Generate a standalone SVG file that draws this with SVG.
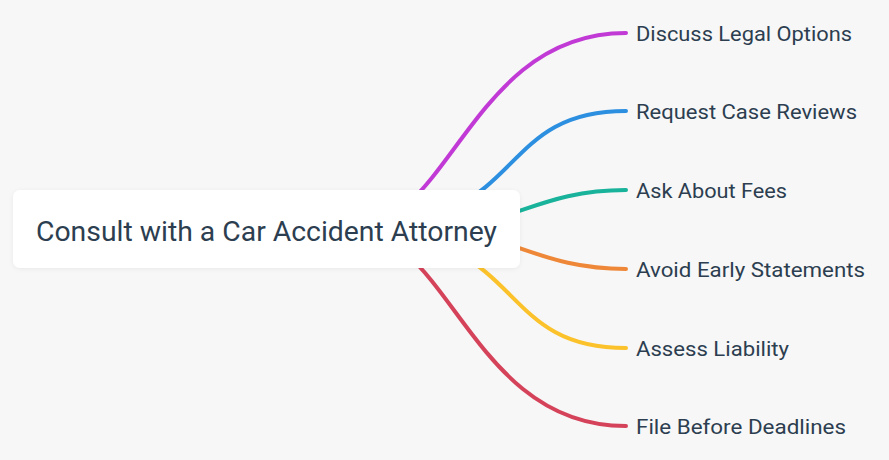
<svg xmlns="http://www.w3.org/2000/svg" width="889" height="460" viewBox="0 0 889 460">
<defs>
<style>
.link{fill:none;stroke-width:4;stroke-linecap:round}
.lbl{font-family:Roboto,"Liberation Sans",sans-serif;font-size:20px;fill:#2c3e50}
.root{font-family:Roboto,"Liberation Sans",sans-serif;font-size:27px;fill:#2c3e50}
</style>
<filter id="sh" x="-5%" y="-20%" width="110%" height="140%">
<feDropShadow dx="0" dy="1" stdDeviation="2" flood-color="#000" flood-opacity="0.06"/>
</filter>
</defs>
<rect width="889" height="460" fill="#f7f7f7"/>
<g id="connectors">
<path class="link" stroke="#c13ad6" d="M350,229.5 C450,229.5 470,33 626,33"/>
<path class="link" stroke="#2d8fe0" d="M345,229.5 C530,229.5 490,111 626,111"/>
<path class="link" stroke="#19b29a" d="M420,229.5 C510,229.5 535,190 626,190"/>
<path class="link" stroke="#ee8838" d="M420,229.5 C510,229.5 535,269 626,269"/>
<path class="link" stroke="#fbc22c" d="M345,229.5 C530,229.5 490,348 626,348"/>
<path class="link" stroke="#d5435a" d="M350,229.5 C450,229.5 470,426 626,426"/>
</g>
<g id="root">
<rect x="13" y="190" width="507" height="78" rx="7" fill="#ffffff" filter="url(#sh)"/>
<text class="root" x="36" y="240.5" textLength="461" lengthAdjust="spacingAndGlyphs">Consult with a Car Accident Attorney</text>
</g>
<g id="n1"><text class="lbl" x="636" y="41" textLength="216" lengthAdjust="spacingAndGlyphs">Discuss Legal Options</text></g>
<g id="n2"><text class="lbl" x="636" y="119" textLength="221" lengthAdjust="spacingAndGlyphs">Request Case Reviews</text></g>
<g id="n3"><text class="lbl" x="636" y="198" textLength="151" lengthAdjust="spacingAndGlyphs">Ask About Fees</text></g>
<g id="n4"><text class="lbl" x="636" y="277" textLength="229" lengthAdjust="spacingAndGlyphs">Avoid Early Statements</text></g>
<g id="n5"><text class="lbl" x="636" y="355.5" textLength="153" lengthAdjust="spacingAndGlyphs">Assess Liability</text></g>
<g id="n6"><text class="lbl" x="636" y="434" textLength="210" lengthAdjust="spacingAndGlyphs">File Before Deadlines</text></g>
</svg>
